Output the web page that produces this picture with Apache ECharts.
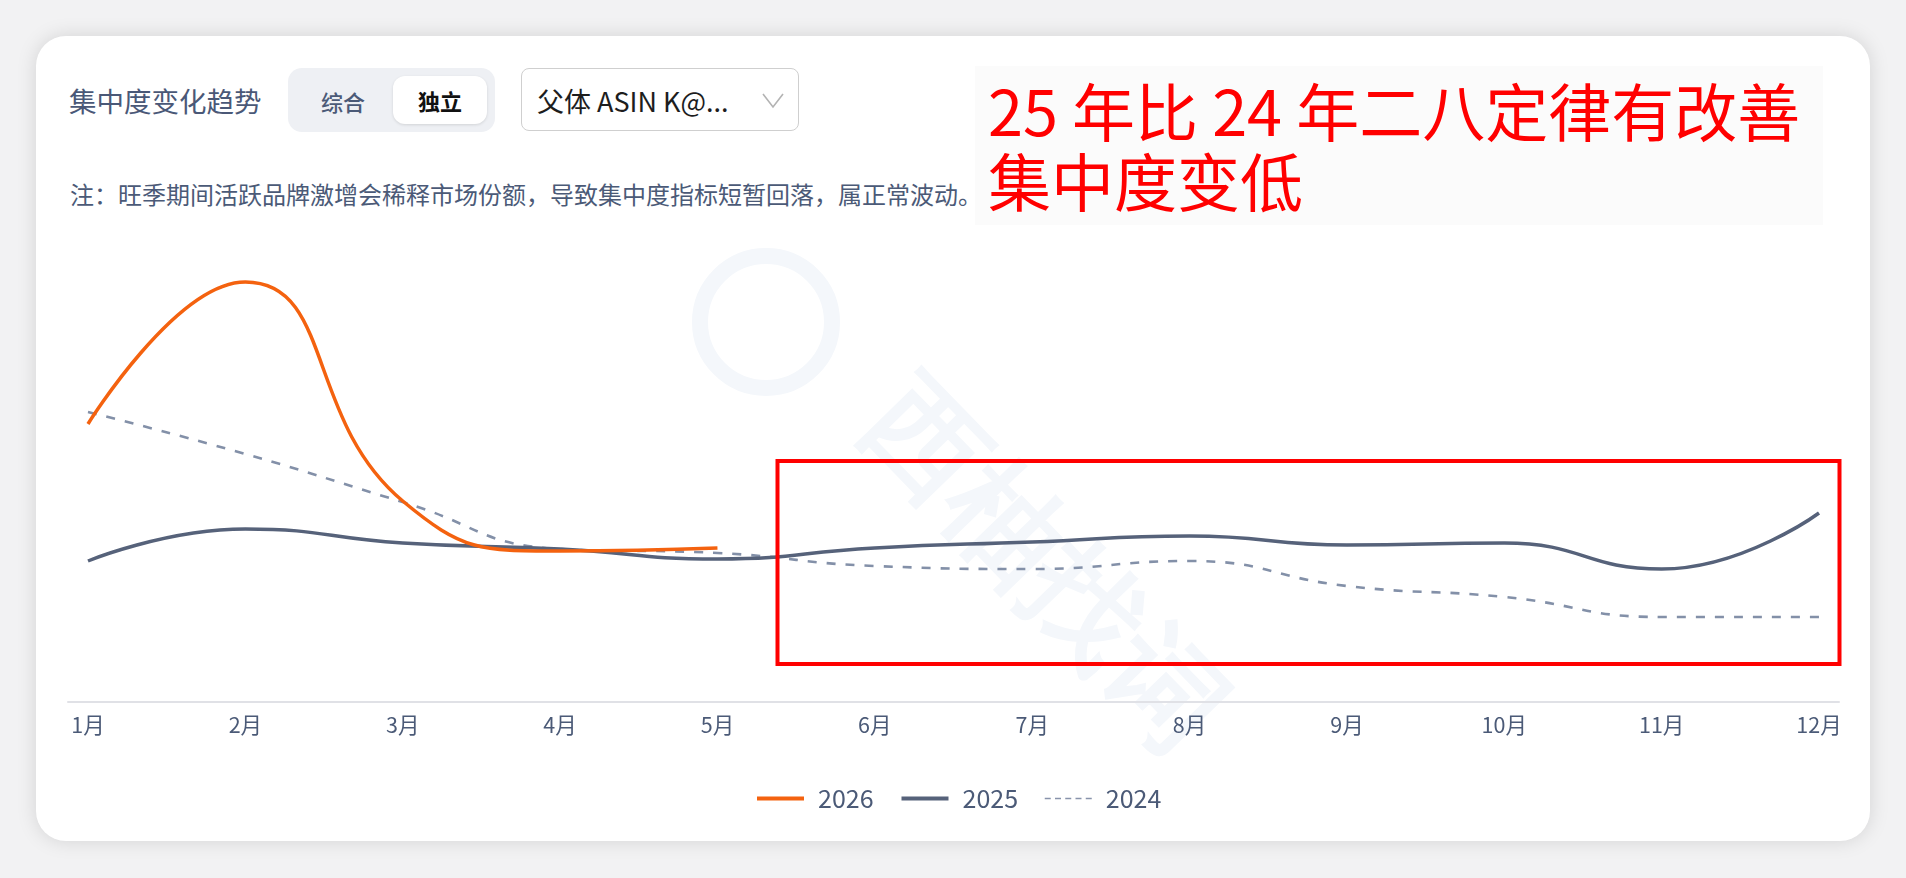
<!DOCTYPE html>
<html><head><meta charset="utf-8">
<script src="https://cdn.jsdelivr.net/npm/echarts@6/dist/echarts.min.js"></script>
<style>
html,body{margin:0;padding:0;width:1906px;height:878px;overflow:hidden;background:#f2f2f3;font-family:"Noto Sans CJK SC","Noto Sans",sans-serif;}
#card{position:absolute;left:36px;top:36px;width:1834px;height:805px;background:#fff;border-radius:30px;box-shadow:0 0 20px rgba(0,0,0,0.13);}
#chart{position:absolute;left:0;top:0;width:1906px;height:878px;}
.abs{position:absolute;white-space:nowrap;}
</style></head><body>
<div id="card"></div>
<div class="abs" style="left:975px;top:66px;width:848px;height:159px;background:#fbfbfb;"></div>
<div class="abs" style="left:69px;top:80px;height:40px;line-height:40px;font-size:27.5px;color:#4a5877;">集中度变化趋势</div>
<div class="abs" style="left:288px;top:68px;width:207px;height:64px;border-radius:14px;background:#eef0f4;"></div>
<div class="abs" style="left:321px;top:81px;height:40px;line-height:40px;font-size:22px;color:#4b5a77;font-weight:500;">综合</div>
<div class="abs" style="left:393px;top:76px;width:94px;height:48px;border-radius:12px;background:#fff;box-shadow:0 1px 3px rgba(0,0,0,0.12);text-align:center;line-height:48px;font-size:22px;font-weight:700;color:#111;">独立</div>
<div class="abs" style="left:521px;top:68px;width:278px;height:63px;box-sizing:border-box;border:1.5px solid #cfcfcf;border-radius:8px;background:#fff;"></div>
<div class="abs" style="left:537px;top:81px;height:40px;line-height:40px;font-size:27px;color:#1d1d1d;">父体 ASIN K@...</div>
<svg class="abs" style="left:761px;top:92px;" width="24" height="18"><polyline points="2,2 12,15 22,2" fill="none" stroke="#b3b3b3" stroke-width="1.6"/></svg>
<div class="abs" style="left:70px;top:174px;height:40px;line-height:40px;font-size:24px;color:#4b5a77;">注：旺季期间活跃品牌激增会稀释市场份额，导致集中度指标短暂回落，属正常波动。</div>
<div class="abs" style="left:988px;top:74px;line-height:70px;font-size:63px;color:#ff0000;">25 年比 24 年二八定律有改善<br>集中度变低</div>
<div id="chart"></div>
<script>
const months = ['1月','2月','3月','4月','5月','6月','7月','8月','9月','10月','11月','12月'];
const s2026 = [27.8, 42.0, 20.1, 15.1, 15.4];
const s2025 = [14.1, 17.3, 15.9, 15.3, 14.3, 15.4, 16.0, 16.6, 15.7, 15.9, 13.3, 18.9];
const s2024 = [29.0, 24.8, 20.0, 15.3, 14.9, 13.6, 13.3, 14.1, 11.6, 10.5, 8.5, 8.5];
const seriesNames = ['2026', '2025', '2024'];

const toPairs = arr => arr.map((v, i) => [i, v]);
const chart = echarts.init(document.getElementById('chart'), null, {renderer: 'canvas'});
const labelColor = '#4b5a77';
const tickValues = months.map((m, i) => i);
const hideDot = {opacity: 0, color: 'rgba(0,0,0,0)', borderWidth: 0};

chart.setOption({
  backgroundColor: 'transparent',
  animation: false,
  textStyle: {fontFamily: '"Noto Sans CJK SC", "Noto Sans", sans-serif'},
  grid: {left: 68, right: 67, top: 232, bottom: 176},
  xAxis: {
    type: 'value', min: -0.127, max: 11.127,
    axisLine: {show: true, lineStyle: {color: '#e0e1e6', width: 2}},
    axisTick: {show: false},
    splitLine: {show: false},
    axisLabel: {
      customValues: tickValues,
      formatter: v => months[Math.round(v)] || '',
      color: labelColor, fontSize: 21.5, margin: 12
    }
  },
  yAxis: {type: 'value', min: 0, max: 47, show: false, splitLine: {show: false}},
  legend: {
    left: 750, top: 781, itemWidth: 47, itemHeight: 14, itemGap: 26,
    itemStyle: hideDot,
    textStyle: {color: labelColor, fontSize: 25, padding: [0, 0, 0, 9]},
    data: [
      {name: seriesNames[0], itemStyle: hideDot, lineStyle: {width: 4, color: '#f4620f'}},
      {name: seriesNames[1], itemStyle: hideDot, lineStyle: {width: 4, color: '#56627a'}},
      {name: seriesNames[2], itemStyle: hideDot, lineStyle: {width: 1.5, color: '#8893ab', type: [6, 4.25]}}
    ]
  },
  graphic: [
    {type: 'text', z: 0, silent: true, rotation: -0.8, x: 1040, y: 570,
     style: {text: '西柚找词', fontSize: 115, fontWeight: 'bold', fill: '#f4f7fb', align: 'center', verticalAlign: 'middle'}},
    {type: 'circle', z: 0, silent: true, shape: {cx: 766, cy: 322, r: 66}, style: {fill: 'none', stroke: '#f4f7fb', lineWidth: 16}},
    {type: 'rect', z: 100, silent: true, shape: {x: 777.5, y: 461, width: 1062, height: 203},
     style: {fill: 'none', stroke: '#ff0000', lineWidth: 4}}
  ],
  series: [
    {name: seriesNames[0], type: 'line', smooth: true, symbol: 'none', data: toPairs(s2026),
     lineStyle: {color: '#f4620f', width: 3.5}, itemStyle: {color: '#f4620f'}, z: 5},
    {name: seriesNames[1], type: 'line', smooth: true, symbol: 'none', data: toPairs(s2025),
     lineStyle: {color: '#56627a', width: 3.5}, itemStyle: {color: '#56627a'}, z: 4},
    {name: seriesNames[2], type: 'line', smooth: true, symbol: 'none', data: toPairs(s2024),
     lineStyle: {color: '#8390a8', width: 2.6, type: [9, 10]}, itemStyle: {color: '#8390a8'}, z: 3}
  ]
});
</script>
</body></html>
